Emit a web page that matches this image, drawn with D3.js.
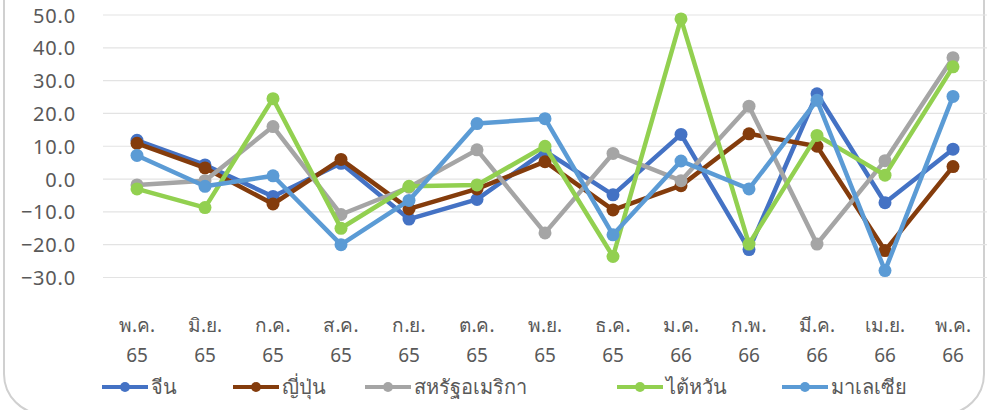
<!DOCTYPE html>
<html>
<head>
<meta charset="utf-8">
<script src="https://cdn.jsdelivr.net/npm/d3@7"></script>
<style>
html,body{margin:0;padding:0;background:#fff;}
svg{display:block;}
text{font-family:"Noto Sans","Open Sans",sans-serif;}
</style>
</head>
<body>
<svg id="chart" width="989" height="410"></svg>
<script>
const months = ["พ.ค.","มิ.ย.","ก.ค.","ส.ค.","ก.ย.","ต.ค.","พ.ย.","ธ.ค.","ม.ค.","ก.พ.","มี.ค.","เม.ย.","พ.ค."];
const years  = ["65","65","65","65","65","65","65","65","66","66","66","66","66"];
const yTicks = [-30,-20,-10,0,10,20,30,40,50];

const seriesNames = ["จีน","ญี่ปุ่น","สหรัฐอเมริกา","ไต้หวัน","มาเลเซีย"];
const seriesColors = ["#4472C4","#843C0C","#A5A5A5","#92D050","#5B9BD5"];

const china    = [11.8, 4.3, -5.3, 4.8, -12.2, -6.2, 8.5, -4.8, 13.6, -21.5, 26.0, -7.2, 9.1];
const japan    = [10.9, 3.4, -7.6, 6.0, -9.1, -3.0, 5.3, -9.4, -2.0, 13.8, 10.0, -21.8, 3.8];
const usa      = [-1.8, -0.5, 16.0, -10.8, -2.5, 8.9, -16.4, 7.8, -0.5, 22.2, -19.8, 5.6, 37.0];
const taiwan   = [-3.0, -8.7, 24.5, -15.0, -2.2, -1.8, 10.0, -23.6, 48.8, -19.8, 13.3, 1.2, 34.2];
const malaysia = [7.2, -2.2, 1.0, -20.0, -6.5, 16.9, 18.4, -17.0, 5.5, -3.0, 24.0, -27.9, 25.2];

const seriesData = [china, japan, usa, taiwan, malaysia];

const svg = d3.select("#chart");

// frame
svg.append("rect")
  .attr("x", 4).attr("y", -60).attr("width", 980).attr("height", 474)
  .attr("rx", 40).attr("ry", 40)
  .attr("fill", "none").attr("stroke", "#d0d0d0").attr("stroke-width", 2);

const x = d3.scaleBand().domain(d3.range(months.length)).range([103, 987]).padding(0);
const cx = i => x(i) + x.bandwidth() / 2;
const y = d3.scaleLinear().domain([-30, 50]).range([277.5, 15]);

// grid
svg.append("g").selectAll("line").data(yTicks).join("line")
  .attr("x1", 103).attr("x2", 987)
  .attr("y1", d => y(d)).attr("y2", d => y(d))
  .attr("stroke", "#e3e3e3").attr("stroke-width", 1.2);

// y axis labels
const yAxis = d3.axisLeft(y).tickValues(yTicks).tickFormat(d3.format(".1f")).tickSize(0).tickPadding(0);
const yg = svg.append("g").attr("transform", "translate(76,0)").call(yAxis);
yg.select(".domain").remove();
yg.selectAll("text").attr("font-size", 20).attr("letter-spacing", 0.8)
  .attr("fill", "#595959").attr("dy", "0.35em");

// x axis labels
const xg = svg.append("g");
xg.selectAll("text.m").data(months).join("text").attr("class","m")
  .attr("x", (d,i) => cx(i)).attr("y", 332)
  .attr("text-anchor", "middle").attr("font-size", 19).attr("fill", "#595959")
  .text(d => d);
xg.selectAll("text.yr").data(years).join("text").attr("class","yr")
  .attr("x", (d,i) => cx(i)).attr("y", 362)
  .attr("text-anchor", "middle").attr("font-size", 19).attr("fill", "#595959")
  .text(d => d);

// lines
const line = d3.line().x((d,i) => cx(i)).y(d => y(d));
seriesData.forEach((s, k) => {
  const g = svg.append("g");
  g.append("path").datum(s)
    .attr("d", line).attr("fill", "none")
    .attr("stroke", seriesColors[k]).attr("stroke-width", 4.5)
    .attr("stroke-linejoin", "round");
  g.selectAll("circle").data(s).join("circle")
    .attr("cx", (d,i) => cx(i)).attr("cy", d => y(d)).attr("r", 6.5)
    .attr("fill", seriesColors[k]);
});

// legend
const legendX = [102, 233, 365, 617, 782];
const lg = svg.append("g");
seriesNames.forEach((n, k) => {
  const g = lg.append("g").attr("transform", `translate(${legendX[k]},387)`);
  g.append("line").attr("x1", 0).attr("x2", 46).attr("y1", 0).attr("y2", 0)
    .attr("stroke", seriesColors[k]).attr("stroke-width", 4);
  g.append("circle").attr("cx", 23).attr("cy", 0).attr("r", 5).attr("fill", seriesColors[k]);
  g.append("text").attr("x", 49).attr("y", 0).attr("dy", "0.35em")
    .attr("font-size", 20).attr("fill", "#595959").text(n);
});
</script>
</body>
</html>
